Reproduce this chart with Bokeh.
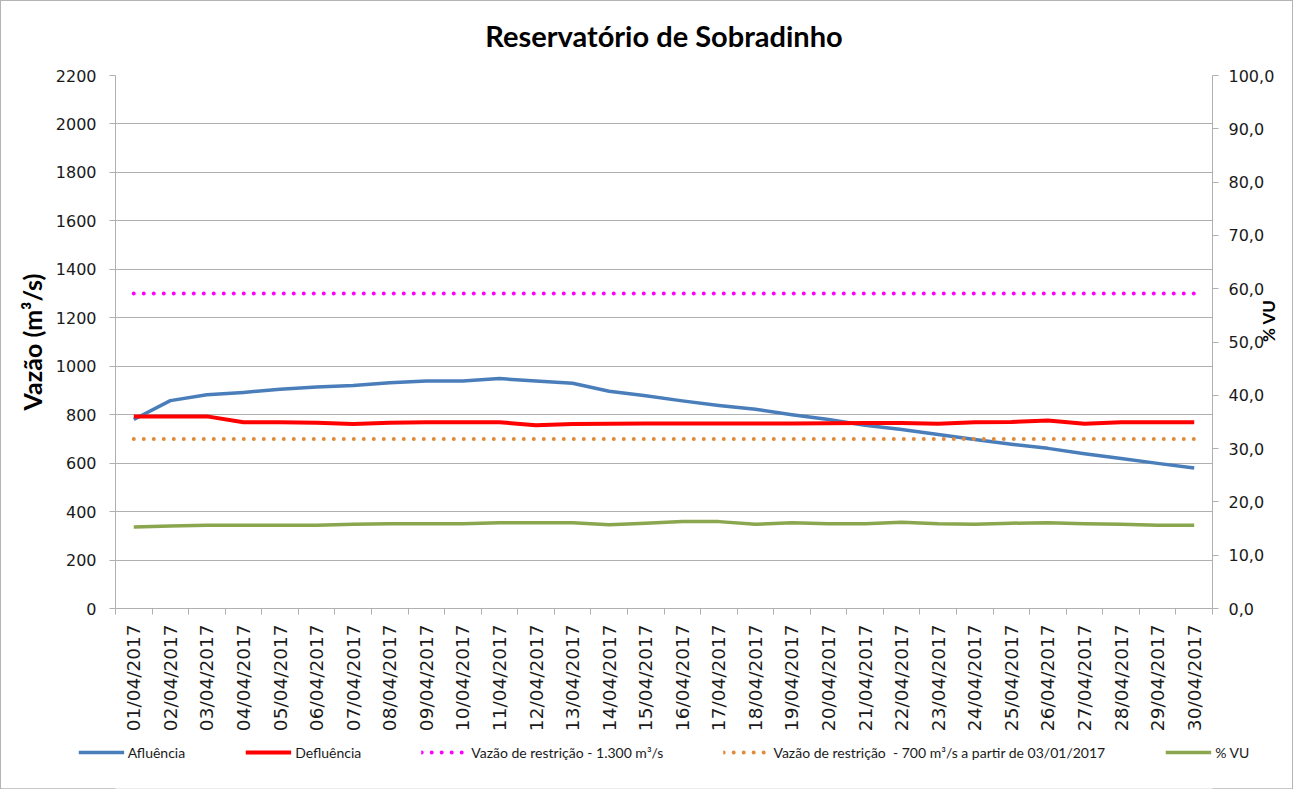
import math
from bokeh.plotting import figure
from bokeh.layouts import column
from bokeh.models import (Range1d, LinearAxis, FixedTicker, CustomJSTickFormatter,
                          Legend, LegendItem, Title)
from bokeh.embed import file_html
from bokeh.resources import INLINE

# ---------------- data ----------------
dates = ["01/04/2017", "02/04/2017", "03/04/2017", "04/04/2017", "05/04/2017",
         "06/04/2017", "07/04/2017", "08/04/2017", "09/04/2017", "10/04/2017",
         "11/04/2017", "12/04/2017", "13/04/2017", "14/04/2017", "15/04/2017",
         "16/04/2017", "17/04/2017", "18/04/2017", "19/04/2017", "20/04/2017",
         "21/04/2017", "22/04/2017", "23/04/2017", "24/04/2017", "25/04/2017",
         "26/04/2017", "27/04/2017", "28/04/2017", "29/04/2017", "30/04/2017"]

afluencia = [780, 858, 882, 892, 905, 914, 920, 932, 939, 939,
             949, 939, 930, 897, 878, 857, 838, 822, 800, 780,
             756, 739, 718, 698, 678, 661, 639, 619, 599, 580]

defluencia = [793, 793, 793, 769, 769, 767, 762, 767, 769, 769,
              769, 756, 762, 763, 764, 764, 764, 764, 764, 765,
              766, 766, 763, 769, 770, 776, 763, 769, 769, 769]

restricao_1300 = [1300, 1300, 1300, 1300, 1300, 1300, 1300, 1300, 1300, 1300,
                  1300, 1300, 1300, 1300, 1300, 1300, 1300, 1300, 1300, 1300,
                  1300, 1300, 1300, 1300, 1300, 1300, 1300, 1300, 1300, 1300]

restricao_700 = [700, 700, 700, 700, 700, 700, 700, 700, 700, 700,
                 700, 700, 700, 700, 700, 700, 700, 700, 700, 700,
                 700, 700, 700, 700, 700, 700, 700, 700, 700, 700]

volume_util = [15.3, 15.5, 15.6, 15.6, 15.6, 15.6, 15.8, 15.9, 15.9, 15.9,
               16.1, 16.1, 16.1, 15.7, 16.0, 16.3, 16.3, 15.8, 16.1, 15.9,
               15.9, 16.2, 15.9, 15.8, 16.0, 16.1, 15.9, 15.8, 15.6, 15.6]

vazao_ticks = [0, 200, 400, 600, 800, 1000, 1200, 1400, 1600, 1800, 2000, 2200]
vu_ticks = [0, 10, 20, 30, 40, 50, 60, 70, 80, 90, 100]

title_text = "Reservatório de Sobradinho"
left_label = "Vazão (m³/s)"
right_label = "% VU"
legend_labels = ["Afluência", "Defluência", "Vazão de restrição - 1.300 m³/s",
                 "Vazão de restrição  - 700 m³/s a partir de 03/01/2017", "% VU"]

# category centres / boundaries on a numeric axis
n = len(dates)
xc = [i + 0.5 for i in range(n)]
xb = [i for i in range(n + 1)]

GRID = "#b0b0b0"
TXT = "#1a1a1a"
TICK_FONT = "DejaVu Sans"

STYLES = [dict(line_color="#4a7ebb", line_width=3.5, line_join="round"),
          dict(line_color="#ff0000", line_width=4, line_join="round"),
          dict(line_color="#ff00ff", line_width=4, line_dash="0 10", line_cap="round"),
          dict(line_color="#e08a3c", line_width=4, line_dash="0 10", line_cap="round"),
          dict(line_color="#8aa64e", line_width=3.5, line_join="round")]
series = [afluencia, defluencia, restricao_1300, restricao_700, volume_util]

W = 1291
p = figure(width=W, height=733, x_range=Range1d(0, n), y_range=Range1d(0, 2200),
           output_backend="svg", toolbar_location=None,
           min_border_left=114, min_border_right=77, min_border_top=74, min_border_bottom=125)
p.outline_line_color = None
p.background_fill_color = "white"
p.border_fill_color = "white"

# title: a small spacer first (closest to the frame), then the real title above it
p.add_layout(Title(text=" ", text_font_size="6px"), "above")
p.add_layout(Title(text=title_text, align="center", text_font="Lato",
                   text_font_style="bold", text_font_size="29px",
                   text_color="black"), "above")

# left axis
la = p.yaxis[0]
la.ticker = FixedTicker(ticks=vazao_ticks)
la.axis_line_color = GRID
la.major_tick_line_color = GRID
la.major_tick_out = 6
la.major_tick_in = 0
la.minor_tick_line_color = None
la.major_label_standoff = 13
la.major_label_text_font = TICK_FONT
la.major_label_text_font_size = "16px"
la.major_label_text_color = TXT
la.axis_label = left_label
la.axis_label_text_font = "Lato"
la.axis_label_text_font_style = "bold"
la.axis_label_text_font_size = "25px"
la.axis_label_text_color = "black"
la.axis_label_standoff = 6

# grid
p.xgrid.visible = False
p.ygrid.ticker = FixedTicker(ticks=vazao_ticks)
p.ygrid.grid_line_color = GRID
p.ygrid.grid_line_width = 1

# x axis
xa = p.xaxis[0]
xa.ticker = FixedTicker(ticks=xc, minor_ticks=xb)
xa.formatter = CustomJSTickFormatter(args=dict(labels=dates),
                                     code="return labels[Math.floor(tick)];")
xa.major_label_orientation = math.pi / 2
xa.major_tick_out = 0
xa.major_tick_in = 0
xa.minor_tick_out = 6
xa.minor_tick_in = 0
xa.minor_tick_line_color = GRID
xa.axis_line_color = GRID
xa.major_label_standoff = 10
xa.major_label_text_font = TICK_FONT
xa.major_label_text_font_size = "18.5px"
xa.major_label_text_color = TXT

# right axis
p.extra_y_ranges = {"vu": Range1d(0, 100)}
ra = LinearAxis(y_range_name="vu", ticker=FixedTicker(ticks=vu_ticks),
                formatter=CustomJSTickFormatter(code="return tick.toFixed(1).replace('.', ',');"))
ra.axis_line_color = GRID
ra.major_tick_line_color = GRID
ra.major_tick_out = 6
ra.major_tick_in = 0
ra.minor_tick_line_color = None
ra.major_label_standoff = 10
ra.major_label_text_font = TICK_FONT
ra.major_label_text_font_size = "16px"
ra.major_label_text_color = TXT
ra.axis_label = right_label
ra.axis_label_text_font = "Lato"
ra.axis_label_text_font_style = "bold"
ra.axis_label_text_font_size = "17px"
ra.axis_label_text_color = "black"
ra.axis_label_standoff = -9
if "axis_label_orientation" in ra.properties():
    ra.axis_label_orientation = math.pi / 2
p.add_layout(ra, "right")

# series
for ys, st in zip(series, STYLES):
    if ys is volume_util:
        p.line(xc, ys, y_range_name="vu", **st)
    else:
        p.line(xc, ys, **st)

# legend strip under the chart: the same series drawn out of view, used only as legend keys
lf = figure(width=W, height=54, x_range=Range1d(100, 101), y_range=Range1d(5000, 5001),
            output_backend="svg", toolbar_location=None, min_border=0)
lf.axis.visible = False
lf.grid.visible = False
lf.outline_line_color = None
lf.background_fill_color = "white"
lf.border_fill_color = "white"
keys = [lf.line(xc, ys, **st) for ys, st in zip(series, STYLES)]
legend = Legend(items=[LegendItem(label=lab, renderers=[r]) for lab, r in zip(legend_labels, keys)],
                location="center", orientation="horizontal",
                glyph_width=46, glyph_height=20, label_height=20, label_standoff=4,
                padding=0, margin=16, spacing=60,
                border_line_color=None, background_fill_alpha=0,
                label_text_font="Lato", label_text_font_size="14px",
                label_text_color=TXT)
lf.add_layout(legend, "above")

layout = column(p, lf, spacing=0)
layout.styles = {"border": "1px solid #b4b4b4"}

open("out.html", "w").write(file_html(layout, INLINE))
